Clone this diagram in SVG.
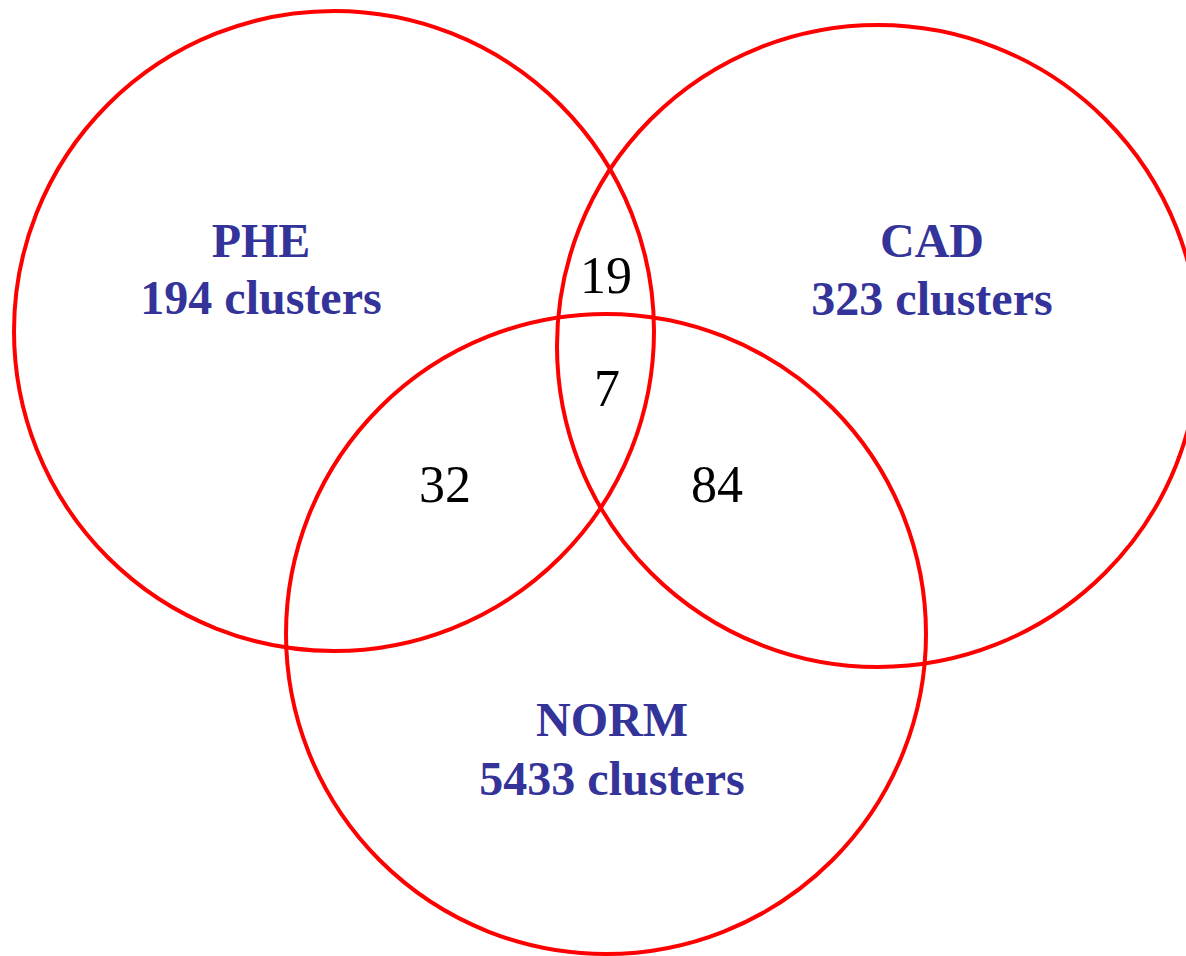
<svg xmlns="http://www.w3.org/2000/svg" width="1186" height="956" viewBox="0 0 1186 956">
<style>
.c{fill:none;stroke:#ff0000;stroke-width:4}
.lbl{font-family:"Liberation Serif","Times New Roman",serif;font-weight:bold;font-size:48px;fill:#333399;text-anchor:middle}
.num{font-family:"Liberation Serif","Times New Roman",serif;font-size:52px;fill:#000000;text-anchor:middle}
</style>
<rect width="1186" height="956" fill="#ffffff"/>
<g id="connectors"></g>
<g id="phe">
<circle class="c" cx="334" cy="331" r="320"/>
<text class="lbl" x="261" y="257">PHE</text>
<text class="lbl" x="261" y="314">194 clusters</text>
</g>
<g id="cad">
<circle class="c" cx="878" cy="346" r="321"/>
<text class="lbl" x="932" y="257">CAD</text>
<text class="lbl" x="932" y="315">323 clusters</text>
</g>
<g id="norm">
<circle class="c" cx="606" cy="634" r="320"/>
<text class="lbl" x="612" y="736">NORM</text>
<text class="lbl" x="612" y="795">5433 clusters</text>
</g>
<g id="counts">
<text class="num" x="606" y="293">19</text>
<text class="num" x="607" y="406">7</text>
<text class="num" x="445" y="502">32</text>
<text class="num" x="717" y="502">84</text>
</g>
</svg>
